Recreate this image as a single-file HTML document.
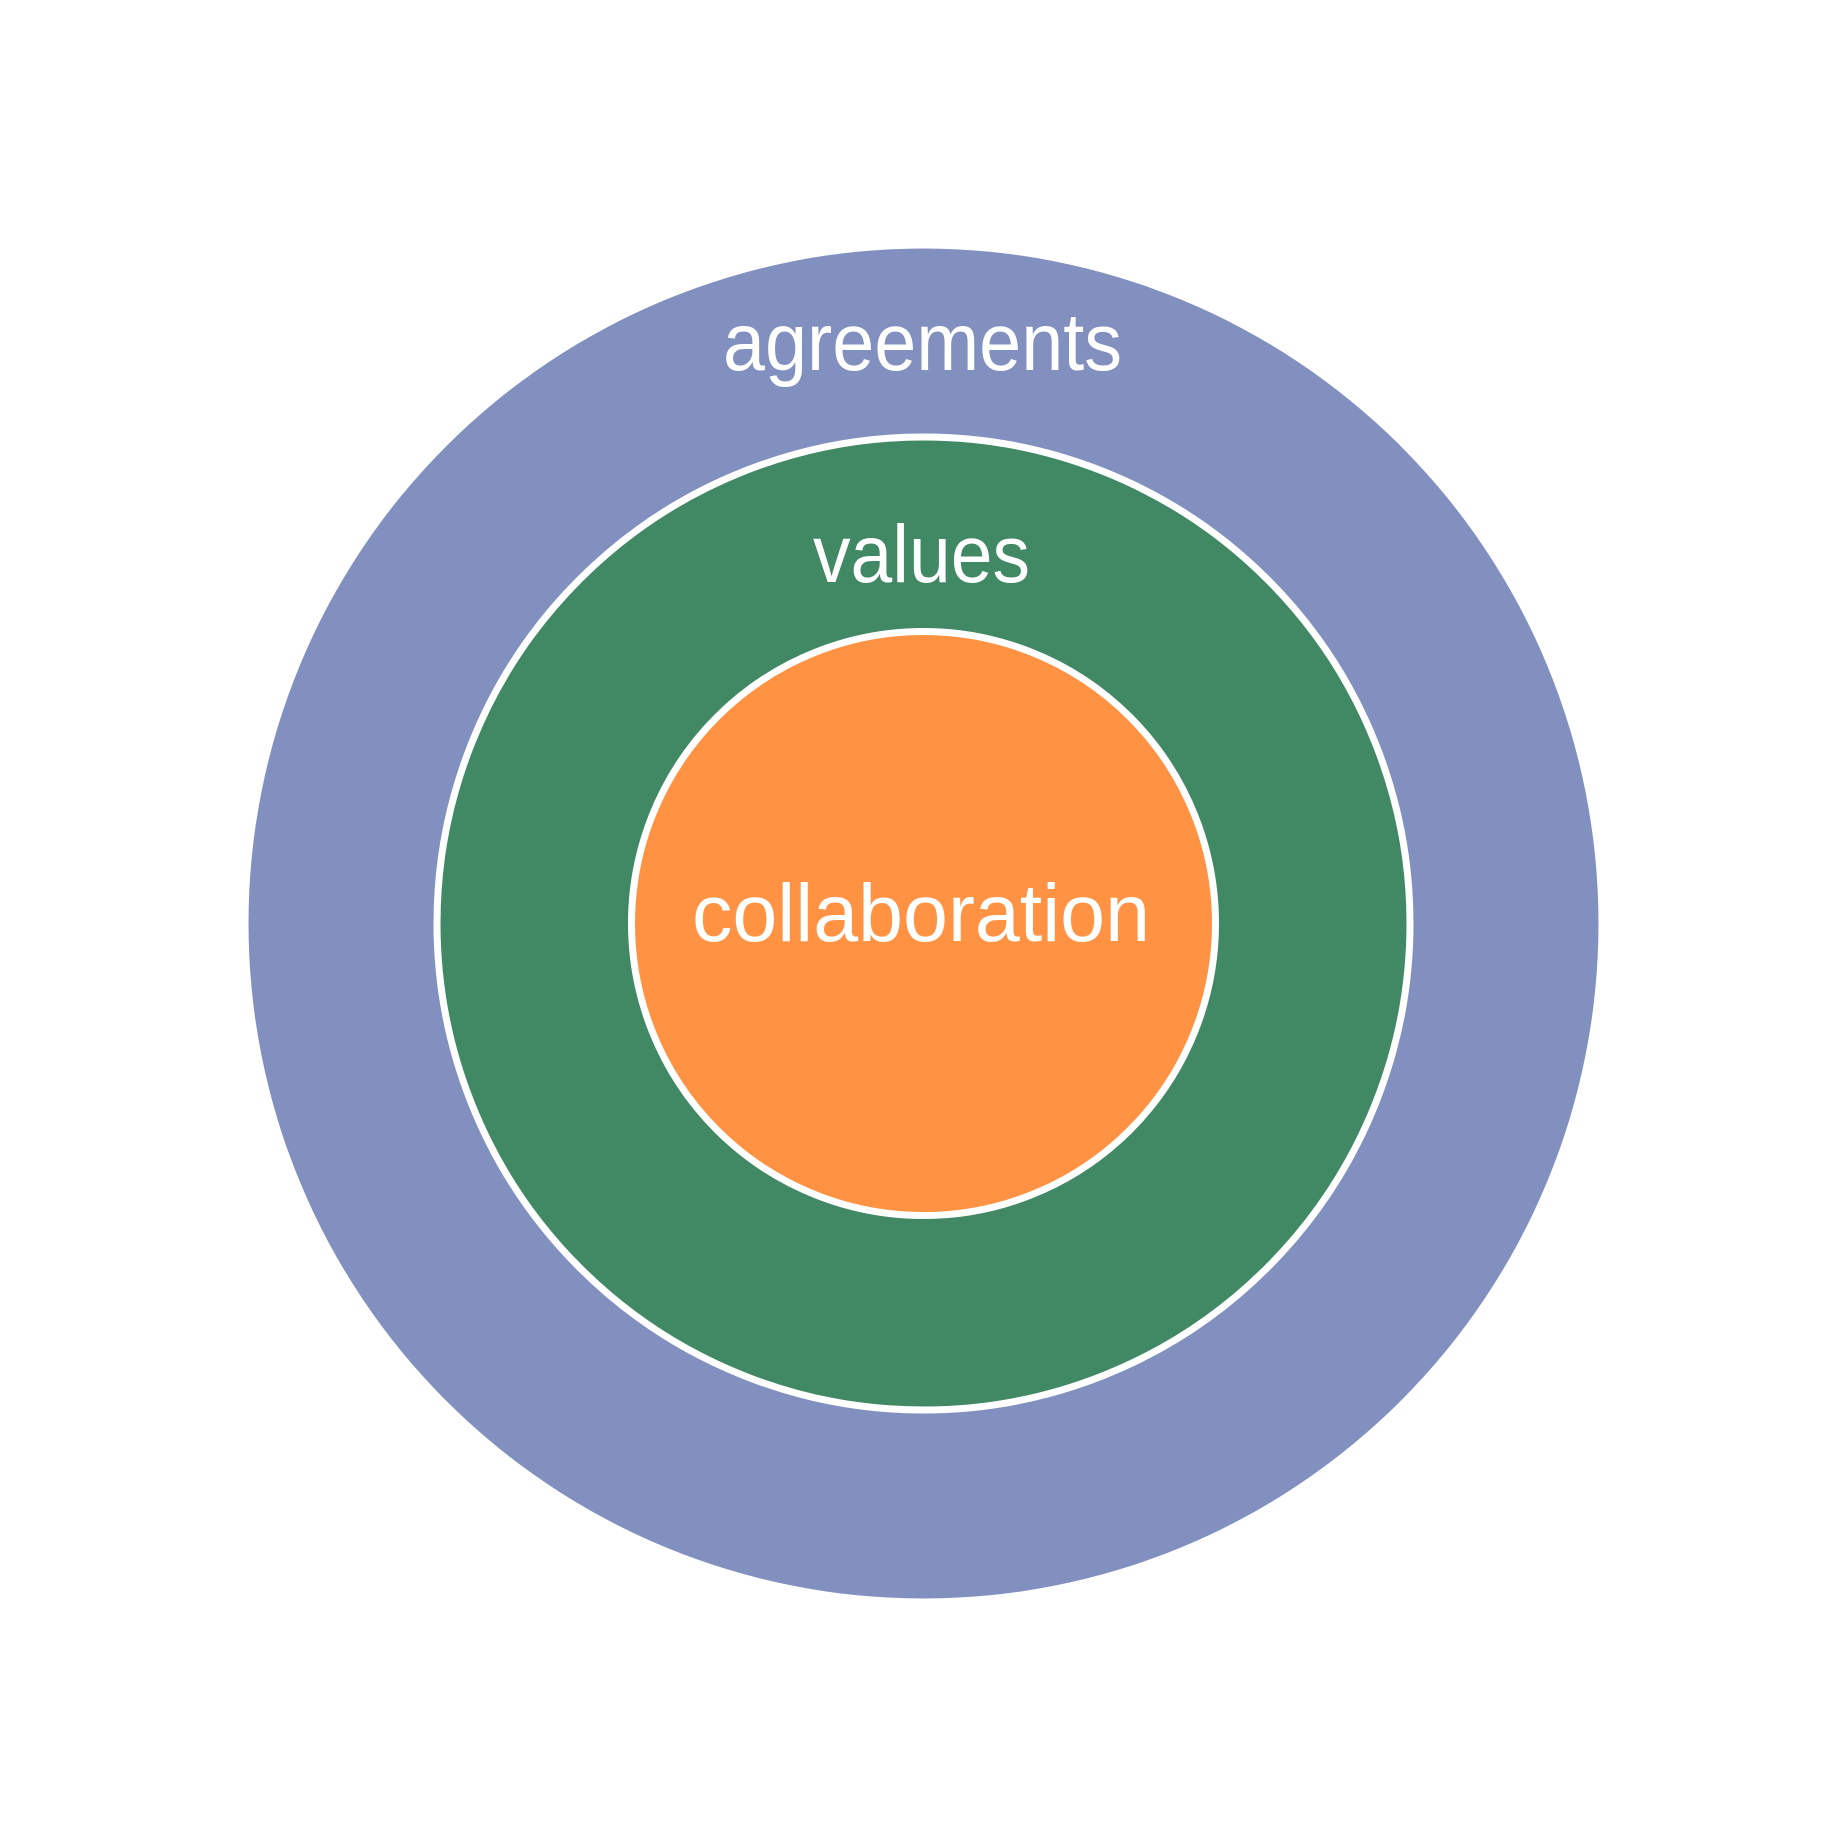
<!DOCTYPE html>
<html><head><meta charset="utf-8"><style>
html,body{margin:0;padding:0;background:#fff;width:1847px;height:1847px;overflow:hidden}
svg{display:block}
text{font-family:"Liberation Sans",sans-serif;fill:#fff}
</style></head><body>
<svg width="1847" height="1847" viewBox="0 0 1847 1847">
<circle cx="923.5" cy="923.5" r="675" fill="#8290c0"/>
<circle cx="923.5" cy="923.5" r="486.5" fill="#418864" stroke="#fff" stroke-width="7"/>
<circle cx="923.5" cy="923.5" r="292" fill="#ff9343" stroke="#fff" stroke-width="7"/>
<text x="723" y="370" font-size="82" textLength="399" lengthAdjust="spacingAndGlyphs">agreements</text>
<text x="813" y="582" font-size="82" textLength="217" lengthAdjust="spacingAndGlyphs">values</text>
<text x="692" y="941" font-size="82" textLength="458" lengthAdjust="spacingAndGlyphs">collaboration</text>
</svg>
</body></html>
